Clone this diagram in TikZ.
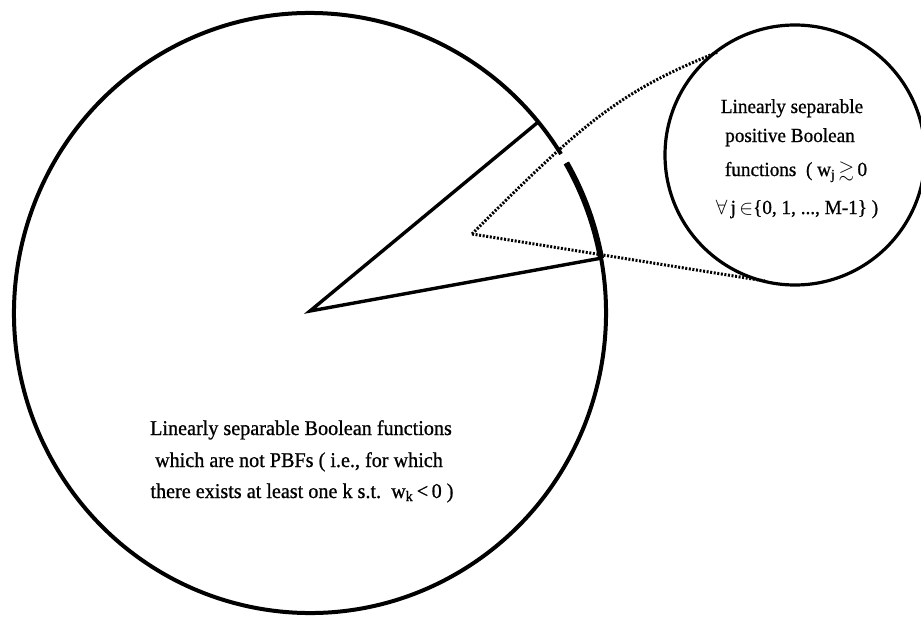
\documentclass[tikz,border=0pt]{standalone}
\usepackage{fontspec}
\usepackage{amssymb}
\setmainfont{Liberation Serif}[FakeBold=0.8, FakeStretch=0.96]
\begin{document}
\begin{tikzpicture}[x=1pt,y=1pt,
  bigcirc/.style={line width=4pt},
  sector/.style={line width=3.4pt, line join=miter},
  thickarc/.style={line width=6pt},
  smallcirc/.style={line width=3.2pt},
  dotline/.style={line width=3pt, dash pattern=on 2pt off 1.6pt},
  txt/.style={font=\fontsize{21}{25}\selectfont, inner sep=0pt, anchor=base},
  stxt/.style={font=\fontsize{20}{24}\selectfont, inner sep=0pt, anchor=base}]
\useasboundingbox (0,0) rectangle (921,-618);
% main circle
\coordinate (O) at (310,-313);
\coordinate (A) at (310,-311);
\coordinate (B) at (537,-123);
\coordinate (C) at (602,-258);
\draw[bigcirc] ([shift={(32:296pt and 300pt)}]O) arc[start angle=32, end angle=390, x radius=296pt, y radius=300pt];
\draw[thickarc] ([shift={(10.5:296pt and 300pt)}]O) arc[start angle=10.5, end angle=30, x radius=296pt, y radius=300pt];
\draw[sector] (B) -- (A) -- (C);
% small circle
\coordinate (S) at (795,-155);
\draw[smallcirc] (S) circle[radius=130pt];
% dotted connectors
\coordinate (D) at (472,-234);
\coordinate (E) at (718,-52);
\coordinate (F) at (765,-281);
\draw[dotline] (D) .. controls (582,-124) and (618,-92) .. (E);
\draw[dotline] (D) -- (F);
% texts
\node[txt] (t1) at (301,-435) {Linearly separable Boolean functions};
\node[txt] (t2) at (299,-467) {which are not PBFs ( i.e., for which};
\node[txt] (t3) at (302,-498) {there exists at least one k s.t.\ \ w\textsubscript{k}\,<\,0 )};
\node[stxt] (s1) at (792,-113) {Linearly separable};
\node[stxt] (s2) at (790,-142) {positive Boolean};
\node[stxt] (s3) at (796,-176) {functions \ ( w\textsubscript{j}\,$\gtrsim$\,0};
\node[stxt] (s4) at (797,-214) {$\forall$\,j\,$\in$\{0, 1, ..., M-1\} )};
\end{tikzpicture}
\end{document}
